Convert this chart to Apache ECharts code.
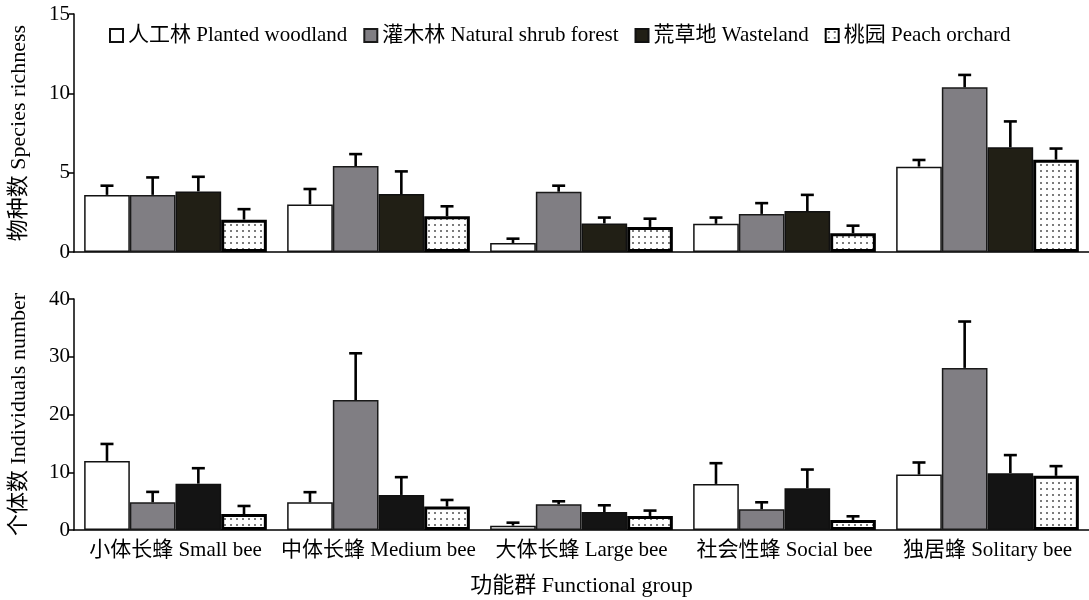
<!DOCTYPE html>
<html><head><meta charset="utf-8">
<script src="https://cdn.jsdelivr.net/npm/echarts/dist/echarts.min.js"></script>
<style>html,body{margin:0;padding:0;background:#fff}#c{width:1089px;height:600px}</style>
</head><body><div id="c"></div>
<script>
// ---- data ----
const categories = ['小体长蜂 Small bee', '中体长蜂 Medium bee', '大体长蜂 Large bee', '社会性蜂 Social bee', '独居蜂 Solitary bee'];
const habitats = ['人工林 Planted woodland', '灌木林 Natural shrub forest', '荒草地 Wasteland', '桃园 Peach orchard'];
const richnessTicks = [0, 5, 10, 15];
const individualsTicks = [0, 10, 20, 30, 40];

// Species richness (mean, SE)
const richPlanted = [3.6, 3.0, 0.57, 1.78, 5.38];
const richPlantedSE = [0.58, 0.97, 0.27, 0.39, 0.42];
const richShrub = [3.6, 5.42, 3.8, 2.4, 10.38];
const richShrubSE = [1.1, 0.75, 0.38, 0.68, 0.78];
const richWaste = [3.82, 3.65, 1.8, 2.58, 6.6];
const richWasteSE = [0.92, 1.43, 0.37, 1.02, 1.63];
const richPeach = [2.04, 2.25, 1.58, 1.18, 5.82];
const richPeachSE = [0.66, 0.63, 0.52, 0.48, 0.70];

// Individuals number (mean, SE)
const indPlanted = [11.96, 4.8, 0.75, 7.98, 9.6];
const indPlantedSE = [2.94, 1.75, 0.52, 3.59, 2.09];
const indShrub = [4.8, 22.5, 4.45, 3.59, 28.07];
const indShrubSE = [1.8, 8.1, 0.52, 1.21, 8.03];
const indWaste = [8.03, 6.07, 3.12, 7.23, 9.84];
const indWasteSE = [2.67, 3.08, 1.16, 3.24, 3.13];
const indPeach = [2.77, 4.05, 2.43, 1.74, 9.38];
const indPeachSE = [1.39, 1.15, 0.93, 0.63, 1.68];

// ---- styles ----
const FONT = '"Liberation Serif", "Noto Sans CJK SC", serif';
const pc = document.createElement('canvas');
pc.width = 6; pc.height = 6;
const pctx = pc.getContext('2d');
pctx.fillStyle = '#ffffff'; pctx.fillRect(0, 0, 6, 6);
pctx.fillStyle = '#7c7c7c'; pctx.fillRect(2, 2, 2, 2);
const peachFill = { image: pc, repeat: 'repeat' };

const styleTop = [
  { color: '#ffffff', borderColor: '#111', borderWidth: 1.5 },
  { color: '#807e83', borderColor: '#1a1a1a', borderWidth: 1.5 },
  { color: '#211f15', borderColor: '#111', borderWidth: 1.5 },
  { color: peachFill, borderColor: '#000', borderWidth: 3 }
];
const styleBottom = [
  { color: '#ffffff', borderColor: '#111', borderWidth: 1.5 },
  { color: '#807e83', borderColor: '#1a1a1a', borderWidth: 1.5 },
  { color: '#141414', borderColor: '#111', borderWidth: 1.5 },
  { color: peachFill, borderColor: '#000', borderWidth: 3 }
];

const N = 4, CAT_GAP = 0.1;
function errRender(idx) {
  return function (params, api) {
    const cat = api.value(0), mean = api.value(1), top = api.value(2);
    const base = api.coord([cat, mean]);
    const tp = api.coord([cat, top]);
    const band = api.size([1, 0])[0];
    const bw = band * (1 - CAT_GAP) / N;
    const x = base[0] - band * (1 - CAT_GAP) / 2 + bw * (idx + 0.5);
    const cap = 6.5;
    const st = { stroke: '#000', lineWidth: 2.6 };
    return { type: 'group', children: [
      { type: 'line', shape: { x1: x, y1: base[1], x2: x, y2: tp[1] }, style: st },
      { type: 'line', shape: { x1: x - cap, y1: tp[1], x2: x + cap, y2: tp[1] }, style: st }
    ] };
  };
}

const topMeans = [richPlanted, richShrub, richWaste, richPeach];
const topSE = [richPlantedSE, richShrubSE, richWasteSE, richPeachSE];
const botMeans = [indPlanted, indShrub, indWaste, indPeach];
const botSE = [indPlantedSE, indShrubSE, indWasteSE, indPeachSE];

const series = [];
function addPanel(means, ses, styles, gi) {
  means.forEach((m, i) => {
    series.push({
      type: 'bar', name: habitats[i], xAxisIndex: gi, yAxisIndex: gi,
      data: m, barGap: '0%', barCategoryGap: (CAT_GAP * 100) + '%',
      itemStyle: styles[i], emphasis: { disabled: true }, z: 2
    });
  });
  means.forEach((m, i) => {
    series.push({
      type: 'custom', name: 'err' + gi + '_' + i, xAxisIndex: gi, yAxisIndex: gi,
      renderItem: errRender(i), z: 3, silent: true,
      encode: { x: 0, y: [1, 2] },
      data: m.map((v, k) => [k, v, +(v + ses[i][k]).toFixed(2)])
    });
  });
}
addPanel(topMeans, topSE, styleTop, 0);
addPanel(botMeans, botSE, styleBottom, 1);

const yCommon = {
  type: 'value',
  axisLine: { show: true, lineStyle: { color: '#000', width: 1.5 } },
  axisTick: { show: true, inside: false, length: 5, lineStyle: { color: '#000', width: 1.5 } },
  splitLine: { show: false },
  axisLabel: { color: '#000', fontFamily: FONT, fontSize: 21, margin: 4 },
  nameLocation: 'middle',
  nameTextStyle: { color: '#000', fontFamily: FONT, fontSize: 22 }
};
const xCommon = {
  type: 'category', data: categories,
  axisLine: { show: true, lineStyle: { color: '#000', width: 1.5 } },
  axisTick: { show: false }
};

const option = {
  backgroundColor: '#fff',
  animation: false,
  legend: {
    data: habitats, left: 104, top: 20, itemWidth: 13, itemHeight: 13, itemGap: 16,
    icon: 'rect',
    textStyle: { color: '#000', fontFamily: FONT, fontSize: 21 }
  },
  grid: [
    { left: 73, right: -3, top: 14, height: 238 },
    { left: 73, right: -3, top: 299, height: 231 }
  ],
  xAxis: [
    Object.assign({}, xCommon, { gridIndex: 0, axisLabel: { show: false } }),
    Object.assign({}, xCommon, {
      gridIndex: 1,
      axisLabel: { color: '#000', fontFamily: FONT, fontSize: 21, margin: 10, interval: 0 },
      name: '功能群 Functional group', nameLocation: 'middle', nameGap: 45,
      nameTextStyle: { color: '#000', fontFamily: FONT, fontSize: 22 }
    })
  ],
  yAxis: [
    Object.assign({}, yCommon, { gridIndex: 0, min: richnessTicks[0], max: richnessTicks[richnessTicks.length - 1], interval: 5, name: '物种数 Species richness', nameGap: 44 }),
    Object.assign({}, yCommon, { gridIndex: 1, min: individualsTicks[0], max: individualsTicks[individualsTicks.length - 1], interval: 10, name: '个体数 Individuals number', nameGap: 44 })
  ],
  series: series
};

const chart = echarts.init(document.getElementById('c'), null, { renderer: 'canvas' });
chart.setOption(option);
</script>
</body></html>
